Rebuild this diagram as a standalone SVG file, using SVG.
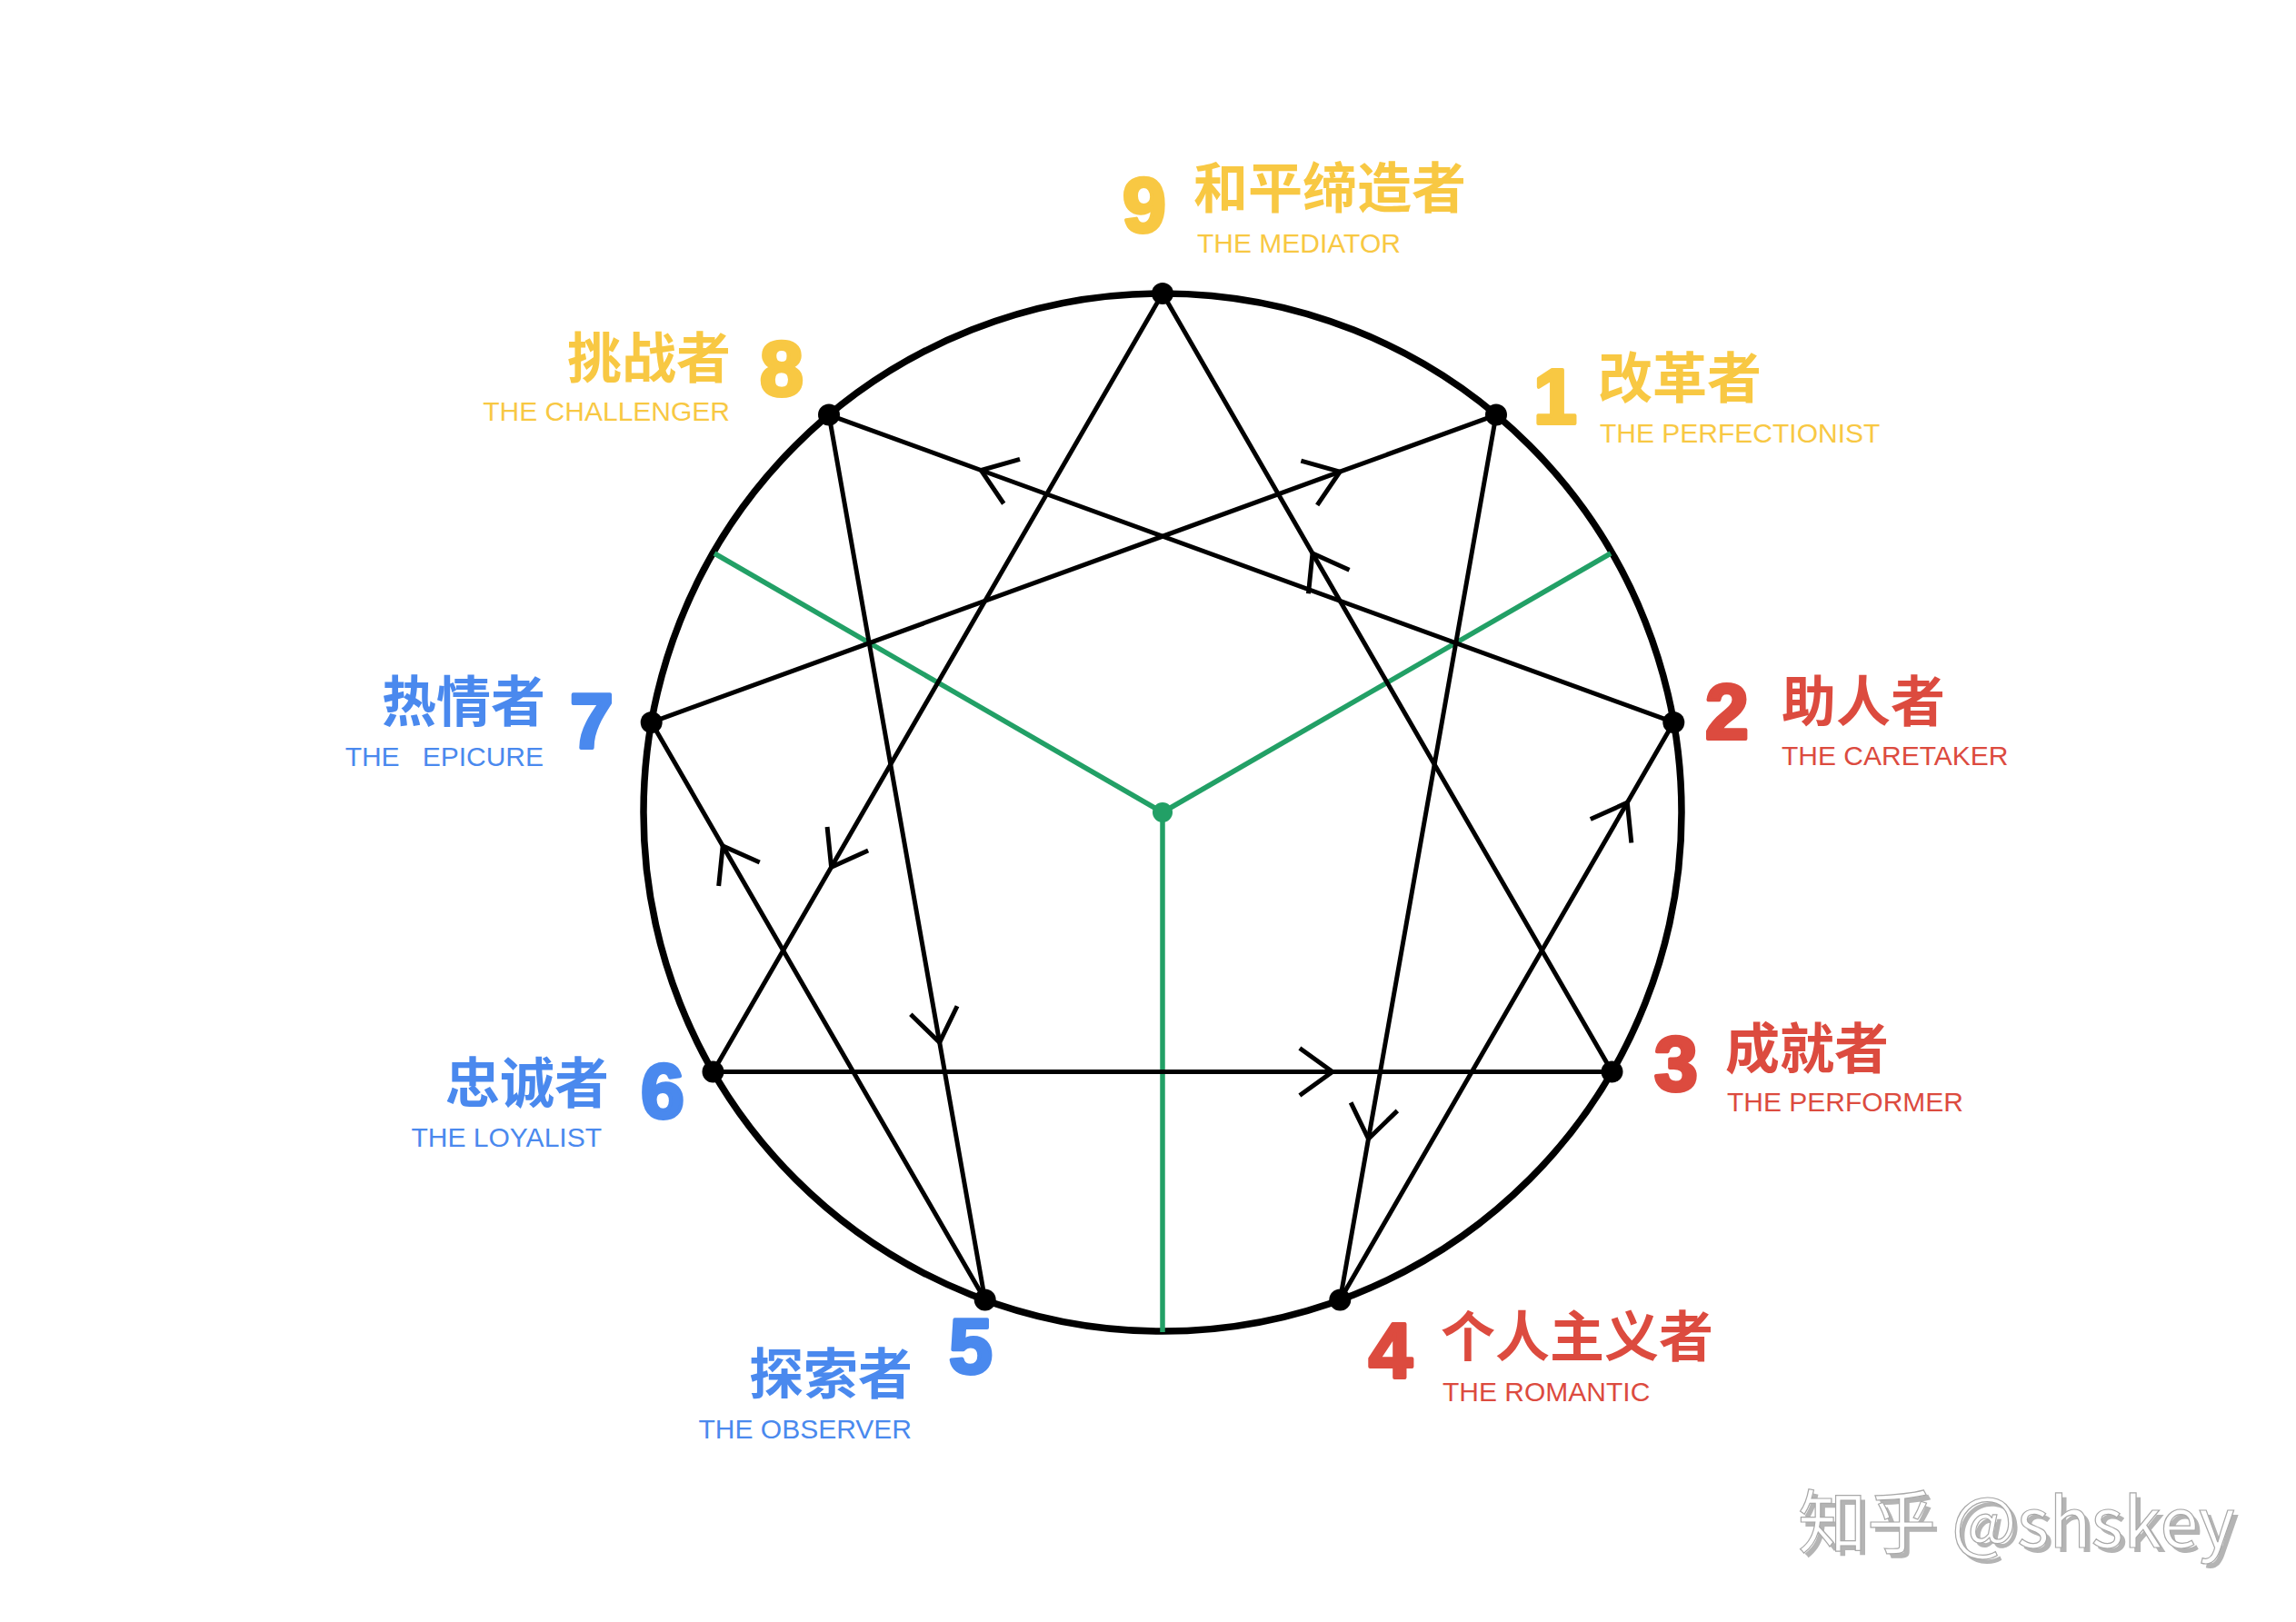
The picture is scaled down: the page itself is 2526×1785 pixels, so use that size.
<svg xmlns="http://www.w3.org/2000/svg" width="2526" height="1785" viewBox="0 0 2526 1785">
<defs>
<style>
.cjk{font-family:"Noto Sans CJK SC","Noto Sans",sans-serif;font-size:60px;font-weight:700}
.en{font-family:"Liberation Sans",Arial,sans-serif;font-size:30px}
.dig{font-family:"Liberation Sans",Arial,sans-serif;font-size:86px;font-weight:700;text-anchor:middle;stroke-width:4;stroke-linejoin:round}
.y{fill:#F8C843}.r{fill:#DC4B3F}.b{fill:#4A89EE}
.dig.y{stroke:#F8C843}.dig.r{stroke:#DC4B3F}.dig.b{stroke:#4A89EE}
.e{text-anchor:end}
.dot{fill:#000}
.ln{stroke:#000;stroke-width:5;fill:none;marker-mid:url(#chev)}
.gr{stroke:#22A066;stroke-width:5.5;fill:none}
.wm{font-family:"Noto Sans CJK SC","Liberation Sans",sans-serif;font-size:76px}
</style>
<marker id="chev" markerUnits="userSpaceOnUse" orient="auto" markerWidth="90" markerHeight="90" viewBox="-45 -45 90 90" refX="0" refY="0" overflow="visible">
<path d="M-36,-26 L0,0 L-36,26" stroke="#000" stroke-width="5" fill="none" stroke-linecap="butt"/>
</marker>
</defs>
<rect width="2526" height="1785" fill="#fff"/>
<circle cx="1279" cy="894" r="571" fill="none" stroke="#000" stroke-width="7.5"/>
<g id="green-lines">
<line class="gr" x1="1279" y1="894" x2="786" y2="609"/>
<line class="gr" x1="1279" y1="894" x2="1772" y2="609"/>
<line class="gr" x1="1279" y1="894" x2="1279" y2="1466"/>
<circle cx="1279" cy="894" r="11" fill="#22A066"/>
</g>
<g id="connectors">
<path class="ln" d="M716.7,794.9 L1474.1,519.2 L1646,456.6"/>
<path class="ln" d="M1841.3,794.9 L1079.3,517.5 L912,456.6"/>
<path class="ln" d="M912,456.6 L1033.7,1147.2 L1083.7,1430.6"/>
<path class="ln" d="M1083.7,1430.6 L795.2,930.9 L716.7,794.9"/>
<path class="ln" d="M1646,456.6 L1505.5,1253.3 L1474.3,1430.6"/>
<path class="ln" d="M1474.3,1430.6 L1790.3,883.3 L1841.3,794.9"/>
<path class="ln" d="M1279,323 L914.6,954.2 L784.5,1179.5"/>
<path class="ln" d="M784.5,1179.5 L1465.9,1179.5 L1773.5,1179.5"/>
<path class="ln" d="M1773.5,1179.5 L1444,609 L1279,323"/>
</g>
<g id="node-9">
<circle class="dot" cx="1279" cy="323" r="12"/>
<text class="dig y" x="1259" y="255">9</text>
<text class="cjk y" x="1313" y="229">和平缔造者</text>
<text class="en y" x="1317" y="278">THE MEDIATOR</text>
</g>
<g id="node-1">
<circle class="dot" cx="1646" cy="456.6" r="12"/>
<text class="dig y" x="1711" y="466">1</text>
<text class="cjk y" x="1758" y="438">改革者</text>
<text class="en y" x="1760" y="487">THE PERFECTIONIST</text>
</g>
<g id="node-2">
<circle class="dot" cx="1841.3" cy="794.9" r="12"/>
<text class="dig r" x="1900" y="813">2</text>
<text class="cjk r" x="1960" y="794">助人者</text>
<text class="en r" x="1960" y="842">THE CARETAKER</text>
</g>
<g id="node-3">
<circle class="dot" cx="1773.5" cy="1179.5" r="12"/>
<text class="dig r" x="1844" y="1200">3</text>
<text class="cjk r" x="1898" y="1176">成就者</text>
<text class="en r" x="1900" y="1223">THE PERFORMER</text>
</g>
<g id="node-4">
<circle class="dot" cx="1474.3" cy="1430.6" r="12"/>
<text class="dig r" x="1530" y="1516">4</text>
<text class="cjk r" x="1585" y="1493">个人主义者</text>
<text class="en r" x="1587" y="1542">THE ROMANTIC</text>
</g>
<g id="node-5">
<circle class="dot" cx="1083.7" cy="1430.6" r="12"/>
<text class="dig b" x="1068" y="1511">5</text>
<text class="cjk b e" x="1004" y="1534">探索者</text>
<text class="en b e" x="1003" y="1583">THE OBSERVER</text>
</g>
<g id="node-6">
<circle class="dot" cx="784.5" cy="1179.5" r="12"/>
<text class="dig b" x="729" y="1230">6</text>
<text class="cjk b e" x="670" y="1214">忠诚者</text>
<text class="en b e" x="662" y="1262">THE LOYALIST</text>
</g>
<g id="node-7">
<circle class="dot" cx="716.7" cy="794.9" r="12"/>
<text class="dig b" x="651" y="823">7</text>
<text class="cjk b e" x="600" y="794">热情者</text>
<text class="en b e" x="598" y="843" xml:space="preserve">THE   EPICURE</text>
</g>
<g id="node-8">
<circle class="dot" cx="912" cy="456.6" r="12"/>
<text class="dig y" x="860" y="435">8</text>
<text class="cjk y e" x="804" y="416">挑战者</text>
<text class="en y e" x="803" y="463">THE CHALLENGER</text>
</g>
<g id="watermark">
<text class="wm" x="1983" y="1708" fill="#b4b4b4">知乎 @shskey</text>
<text class="wm" x="1978" y="1703" fill="#fff" stroke="#a8a8a8" stroke-width="1.2">知乎 @shskey</text>
</g>
</svg>
